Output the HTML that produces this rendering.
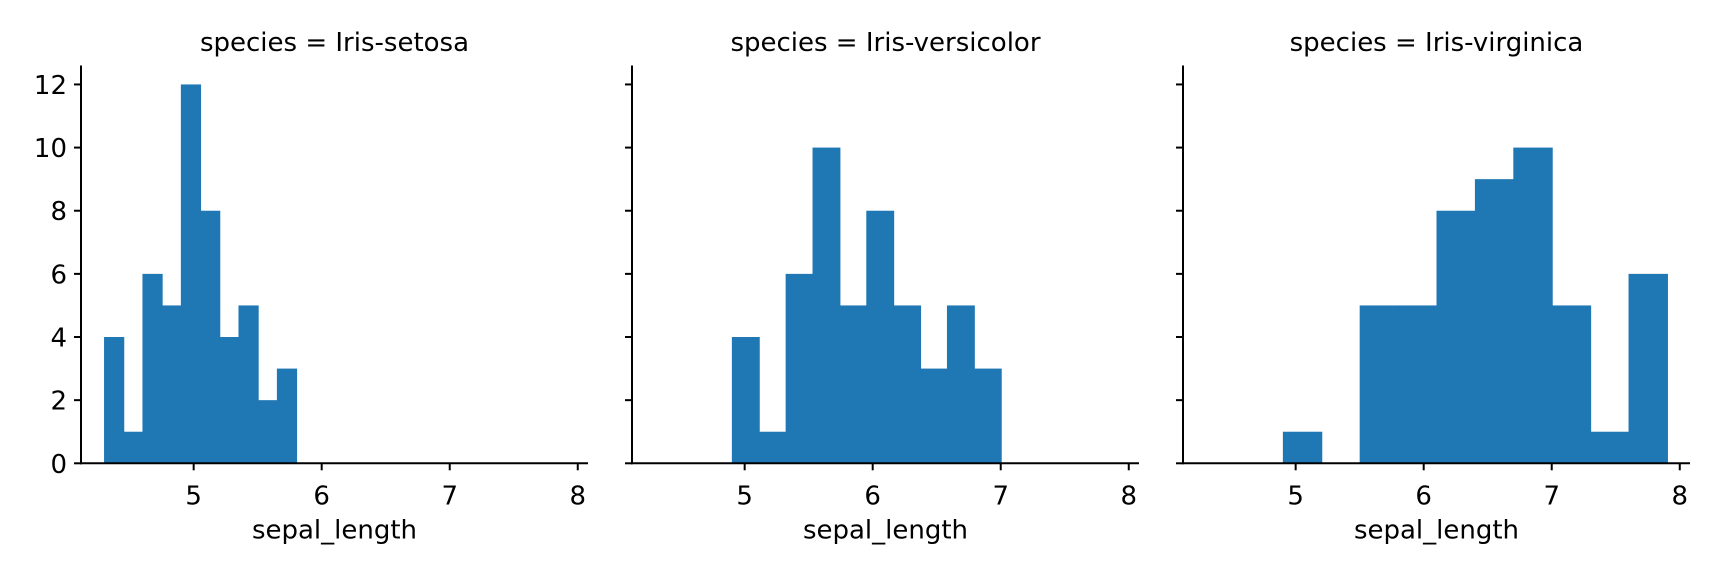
<!DOCTYPE html>
<html><head><meta charset="utf-8">
<style>
html,body{margin:0;padding:0;background:#fff;}
svg{display:block;}
text{font-family:"DejaVu Sans","Liberation Sans",sans-serif;fill:#000;}
</style></head>
<body>
<svg id="chart" width="1728" height="576" viewBox="0 0 1728 576" xmlns="http://www.w3.org/2000/svg"></svg>
<script>
const panelTitles = ["species = Iris-setosa", "species = Iris-versicolor", "species = Iris-virginica"];
const binStarts = [4.3, 4.9, 4.9];
const binEnds = [5.8, 7.0, 7.9];
const setosaCounts = [4, 1, 6, 5, 12, 8, 4, 5, 2, 3];
const versicolorCounts = [4, 1, 6, 10, 5, 8, 5, 3, 5, 3];
const virginicaCounts = [1, 0, 5, 5, 8, 9, 10, 5, 1, 6];
const xTicks = [5, 6, 7, 8];
const yTicks = [0, 2, 4, 6, 8, 10, 12];
const xLabel = "sepal_length";

const allCounts = [setosaCounts, versicolorCounts, virginicaCounts];
const NS = "http://www.w3.org/2000/svg";
const svg = document.getElementById("chart");
const panelLefts = [81, 632, 1183];
const panelW = 507, baseY = 463.3, topY = 65.5;
const xMin = 4.12, xMax = 8.08;
const yMax = 12.6;
const FS = 26;
function mk(tag, attrs, parent) {
  const e = document.createElementNS(NS, tag);
  for (const k in attrs) e.setAttribute(k, attrs[k]);
  (parent || svg).appendChild(e);
  return e;
}
allCounts.forEach((counts, p) => {
  const L = panelLefts[p];
  const xs = v => L + (v - xMin) / (xMax - xMin) * panelW;
  const ys = v => baseY - v / yMax * (baseY - topY);
  const g = mk("g", {});
  
  
  const n = counts.length;
  const w = (binEnds[p] - binStarts[p]) / n;
  counts.forEach((c, i) => {
    if (c <= 0) return;
    const x0 = xs(binStarts[p] + i * w), x1 = xs(binStarts[p] + (i + 1) * w);
    const r = mk("rect", {x: x0, y: ys(c), width: x1 - x0 + 1, height: baseY - ys(c), fill: "#1f77b4"}, g);
    
    
  });
  const ya = mk("line", {x1: L, y1: topY, x2: L, y2: baseY + 1, stroke: "#000", "stroke-width": 2}, g);
  
  
  const xa = mk("line", {x1: L - 1, y1: baseY, x2: L + panelW, y2: baseY, stroke: "#000", "stroke-width": 2}, g);
  
  
  yTicks.forEach(t => {
    const tk = mk("line", {x1: L - 7, y1: ys(t), x2: L, y2: ys(t), stroke: "#000", "stroke-width": 2}, g);
    
    
    if (p === 0) {
      const tl = mk("text", {x: L - 14, y: ys(t) + 9.5, "font-size": FS, "text-anchor": "end"}, g);
      tl.textContent = t;
      
      
    }
  });
  xTicks.forEach(t => {
    const tk = mk("line", {x1: xs(t), y1: baseY, x2: xs(t), y2: baseY + 7, stroke: "#000", "stroke-width": 2}, g);
    
    
    const tl = mk("text", {x: xs(t), y: 504.5, "font-size": FS, "text-anchor": "middle"}, g);
    tl.textContent = t;
    
    
  });
  const xl = mk("text", {x: L + panelW / 2, y: 538.5, "font-size": FS, "text-anchor": "middle"}, g);
  xl.textContent = xLabel;
  
  
  const tt = mk("text", {x: L + panelW / 2, y: 51, "font-size": FS, "text-anchor": "middle"}, g);
  tt.textContent = panelTitles[p];
  
  
});
</script>
</body></html>
